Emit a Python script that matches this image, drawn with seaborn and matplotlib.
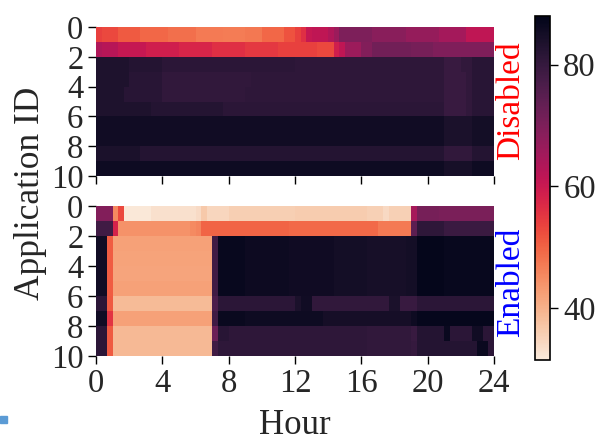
import numpy as np
import pandas as pd
import seaborn as sns
import matplotlib
matplotlib.use("Agg")
from matplotlib import pyplot as plt
from matplotlib.patches import Rectangle

# hodnoty: 10 aplikaci x 72 slotu po 20 min, kazdy radek jako (hodnota, pocet slotu)
hour_ticks = [0, 4, 8, 12, 16, 20, 24]
app_ticks = [0, 2, 4, 6, 8, 10]
slots_per_hour = 3
vmin, vmax = 31.5, 88
cbar_ticks = [40, 60, 80]

disabled_runs = [
    [(54, 1), (53, 3), (51, 4), (49.5, 5), (48.5, 5), (47.3, 5), (47, 4), (47.5, 3), (49.5, 4), (52, 2),
     (54, 1), (56, 1), (60.5, 1), (61.5, 3), (63.5, 1), (66, 1), (70, 6), (68.5, 6), (67, 6), (65, 5), (61.5, 5)],
    [(63.7, 1), (62.5, 3), (60.5, 5), (59, 6), (57.7, 6), (56, 6), (55, 6), (54, 3), (54, 4), (53, 3),
     (59, 1), (61.5, 1), (66, 3), (69.4, 2), (71.5, 7), (70.8, 4), (69.8, 11)],
    [(83.5, 6), (82.5, 6), (81.5, 24), (81, 27), (79.5, 3), (80.5, 2), (82, 4)],
    [(83.5, 6), (82, 6), (80.5, 16), (81, 35), (79.5, 4), (80.5, 1), (82, 4)],
    [(83.5, 5), (82, 7), (80.5, 15), (81, 36), (79.5, 4), (80.5, 1), (82, 4)],
    [(83.5, 10), (82.5, 13), (81.5, 40), (79.5, 4), (80.5, 1), (82, 4)],
    [(85.5, 63), (84, 5), (85, 4)],
    [(85.5, 63), (84, 5), (85, 4)],
    [(84, 8), (82.5, 55), (80.5, 5), (82.5, 4)],
    [(86, 63), (84.5, 5), (86, 4)],
]

enabled_runs = [
    [(69.4, 3), (45.6, 1), (53, 1), (32.1, 5), (33.2, 8), (34, 1), (36.6, 1), (34.6, 4), (35.8, 12),
     (36.2, 13), (35.5, 3), (34.3, 1), (35.5, 4), (64.8, 1), (71, 4), (70.5, 10)],
    [(78.5, 3), (58, 1), (44.3, 13), (45.3, 1), (46, 1), (50, 16), (49.3, 16), (47.3, 6), (74.5, 1),
     (81, 5), (79.2, 9)],
    [(85.5, 2), (50.8, 1), (42.2, 18), (78.5, 1), (86.8, 5), (86.2, 8), (85.6, 8), (85, 6), (84.5, 7),
     (85, 2), (87.5, 5), (86.8, 9)],
    [(85.5, 2), (50.8, 1), (42.0, 18), (78.5, 1), (86.8, 5), (86.2, 8), (85.6, 8), (85, 6), (84.5, 7),
     (85, 2), (87.5, 5), (86.8, 9)],
    [(85.5, 2), (50.8, 1), (41.8, 18), (78.5, 1), (86.8, 5), (86.2, 8), (85.6, 8), (85, 6), (84.5, 7),
     (85, 2), (87.5, 5), (86.8, 9)],
    [(85.5, 2), (50.8, 1), (42.3, 18), (78.5, 1), (86.8, 5), (86.2, 8), (85.6, 8), (85, 6), (84.5, 7),
     (85, 2), (87.5, 5), (86.8, 9)],
    [(81.5, 2), (51, 1), (38.6, 18), (76.7, 1), (81.5, 14), (84, 1), (85.5, 2), (80.5, 14), (84, 2),
     (79.5, 3), (81.5, 14)],
    [(85.5, 2), (55.5, 1), (42.1, 18), (78.5, 1), (86.6, 5), (85.8, 14), (84.8, 16), (85.8, 1), (87.3, 14)],
    [(81.5, 2), (51, 1), (38.9, 18), (72.5, 1), (82, 2), (81, 25), (80.5, 8), (79.5, 1), (82.5, 5),
     (86.5, 1), (81.5, 4), (85.5, 2), (81.5, 2)],
    [(81.5, 2), (51, 1), (38.9, 18), (78.5, 1), (81, 27), (80.5, 8), (80, 1), (82.5, 11), (86.5, 2),
     (81.5, 1)],
]


def expand(runs):
    # rozbaleni (hodnota, pocet) na plnou matici
    return pd.DataFrame([[v for v, n in row for _ in range(n)] for row in runs])


sns.set_style("ticks")
plt.rcParams['font.family'] = ['Liberation Serif', 'DejaVu Serif']

fig = plt.figure(figsize=(5.97, 4.41), dpi=100)
ax_top = fig.add_axes([96 / 597, 1 - 176 / 441, 398 / 597, 149 / 441])
ax_bot = fig.add_axes([96 / 597, 1 - 356 / 441, 398 / 597, 150 / 441])
cax = fig.add_axes([535 / 597, 1 - 360 / 441, 15 / 597, 344 / 441])

for ax, runs in [(ax_top, disabled_runs), (ax_bot, enabled_runs)]:
    sns.heatmap(expand(runs), ax=ax, cmap='rocket_r', vmin=vmin, vmax=vmax, cbar=False,
                xticklabels=False, yticklabels=False)
    ax.set_yticks(app_ticks)
    ax.set_yticklabels([str(t) for t in app_ticks], fontsize=23.5)
    ax.set_xticks([h * slots_per_hour for h in hour_ticks])
    ax.tick_params(axis='both', length=6, width=1, color='black', pad=3)
    ax.set_ylabel('')
    ax.set_xlabel('')

ax_top.set_xticklabels([])
ax_bot.set_xticklabels([str(h) for h in hour_ticks], fontsize=23.5)
ax_bot.set_xlabel('Hour', fontsize=25, labelpad=7)

cb = fig.colorbar(ax_top.collections[0], cax=cax)
cb.set_ticks(cbar_ticks)
cb.ax.tick_params(labelsize=23.5, length=6, width=1, color='black')
cb.outline.set_edgecolor('black')
cb.outline.set_linewidth(1.2)

fig.text(511 / 597, 1 - 101 / 441, 'Disabled', rotation=90, color='red', fontsize=24,
         ha='center', va='center')
fig.text(511 / 597, 1 - 282 / 441, 'Enabled', rotation=90, color='blue', fontsize=24,
         ha='center', va='center')
fig.text(31 / 597, 1 - 193 / 441, 'Application ID', rotation=90, fontsize=25.5,
         ha='center', va='center')

# maly modry ctverecek v levem dolnim rohu
fig.patches.append(Rectangle((0, 1 - 423 / 441), 7 / 597, 7 / 441, transform=fig.transFigure,
                             color='#5b9bd5', zorder=5))

fig.savefig('out.png', dpi=100)
plt.close(fig)
